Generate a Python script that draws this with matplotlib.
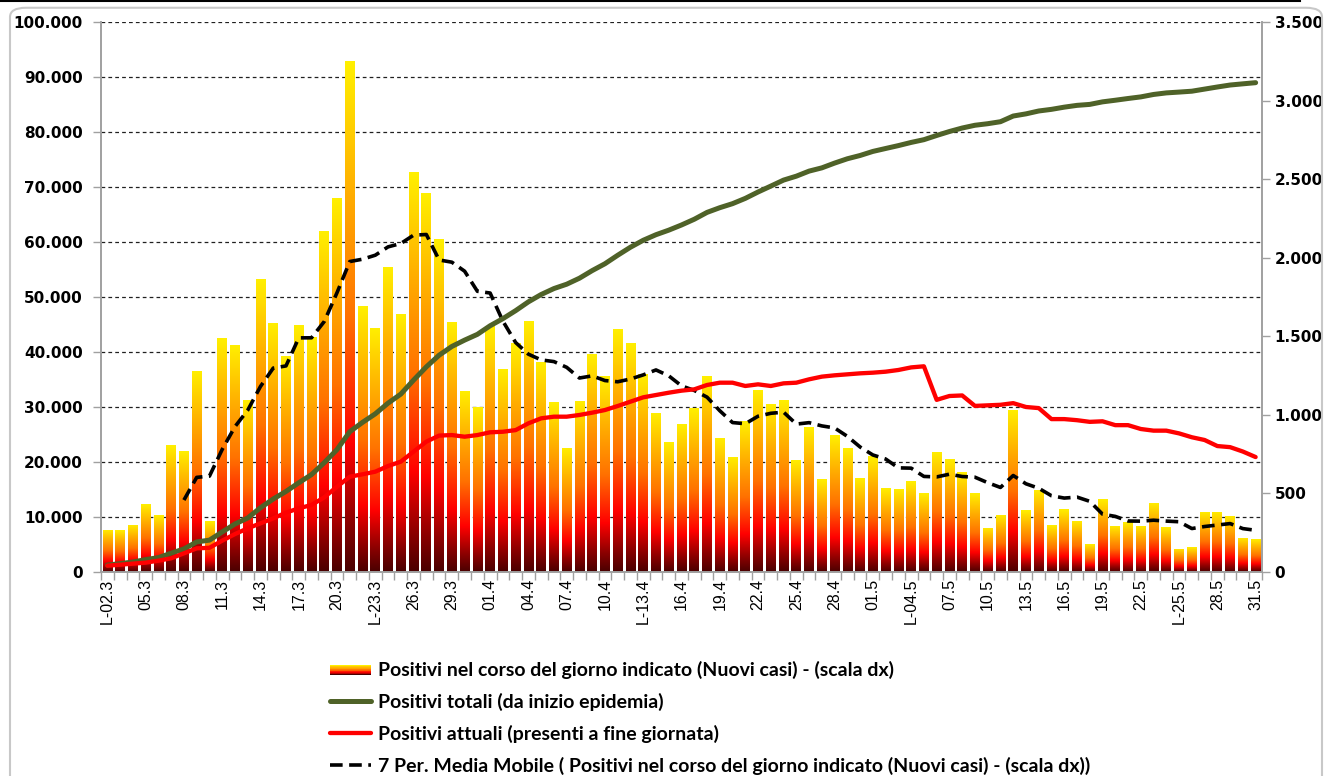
import numpy as np
import pandas as pd
import matplotlib
matplotlib.use('Agg')
import matplotlib.pyplot as plt
from matplotlib.colors import LinearSegmentedColormap
from matplotlib.patches import Rectangle, FancyBboxPatch
from matplotlib.lines import Line2D
from matplotlib.legend_handler import HandlerBase
from matplotlib.ticker import FuncFormatter

# daily new positives (right scale), 02.3 -> 31.5
new_cases = [270, 266, 300, 431, 361, 808, 769, 1280, 322, 1489,
             1445, 1095, 1865, 1587, 1377, 1571, 1493, 2171, 2380, 3251,
             1691, 1555, 1942, 1643, 2543, 2409, 2117, 1592, 1154, 1047,
             1565, 1292, 1455, 1598, 1337, 1079, 791, 1089, 1388, 1246,
             1544, 1460, 1262, 1012, 827, 941, 1041, 1246, 855, 735,
             960, 1161, 1072, 1092, 713, 920, 590, 869, 786, 598,
             737, 533, 526, 577, 500, 764, 720, 634, 502, 282,
             364, 1033, 394, 522, 299, 399, 325, 176, 462, 294,
             316, 293, 441, 285, 148, 159, 384, 382, 358, 217, 210]

# total positives since start (left scale)
total_pos = [1254, 1520, 1820, 2251, 2612, 3420, 4189, 5469, 5791, 7280,
             8725, 9820, 11685, 13272, 14649, 16220, 17713, 19884, 22264, 25515,
             27206, 28761, 30703, 32346, 34889, 37298, 39415, 41007, 42161, 43208,
             44773, 46065, 47520, 49118, 50455, 51534, 52325, 53414, 54802, 56048,
             57592, 59052, 60314, 61326, 62153, 63094, 64135, 65381, 66236, 66971,
             67931, 69092, 70164, 71256, 71969, 72889, 73479, 74348, 75134, 75732,
             76469, 77002, 77528, 78105, 78605, 79369, 80089, 80723, 81225, 81507,
             81871, 82904, 83298, 83820, 84119, 84518, 84843, 85019, 85481, 85775,
             86091, 86384, 86825, 87110, 87258, 87417, 87801, 88183, 88541, 88758, 88968]

# current positives at end of day (left scale)
current_pos = [1150, 1330, 1520, 1700, 2060, 2490, 3400, 4300, 4400, 5700,
               6900, 7940, 8850, 9760, 10790, 11580, 12180, 13580, 15520, 17330,
               17760, 18240, 19270, 20060, 21880, 23700, 24800, 24900, 24600, 24900,
               25400, 25500, 25800, 27030, 27940, 28240, 28240, 28550, 28970, 29450,
               30180, 30970, 31760, 32180, 32600, 32970, 33210, 34000, 34420, 34420,
               33820, 34120, 33820, 34300, 34420, 35030, 35520, 35760, 35940, 36120,
               36240, 36420, 36730, 37200, 37400, 31300, 32000, 32100, 30200, 30300,
               30400, 30700, 30000, 29800, 27800, 27800, 27600, 27300, 27400, 26700,
               26700, 26000, 25700, 25700, 25200, 24500, 24000, 22900, 22700, 21900, 20900]

tick_labels = ['L-02.3', '05.3', '08.3', '11.3', '14.3', '17.3', '20.3', 'L-23.3',
               '26.3', '29.3', '01.4', '04.4', '07.4', '10.4', 'L-13.4', '16.4',
               '19.4', '22.4', '25.4', '28.4', '01.5', 'L-04.5', '07.5', '10.5',
               '13.5', '16.5', '19.5', '22.5', 'L-25.5', '28.5', '31.5']

legend_labels = ['Positivi nel corso del giorno indicato (Nuovi casi) - (scala dx)',
                 'Positivi totali (da inizio epidemia)',
                 'Positivi attuali (presenti a fine giornata)',
                 '7 Per. Media Mobile ( Positivi nel corso del giorno indicato (Nuovi casi) - (scala dx))']

days = np.arange(len(new_cases))
moving_avg = pd.Series(new_cases).rolling(7).mean()

bar_cmap = LinearSegmentedColormap.from_list(
    'fire', [(0, '#4a0000'), (0.1, '#8e0000'), (0.25, '#ff0000'),
             (0.5, '#ff7200'), (0.75, '#ffb000'), (1, '#fff000')])

fig = plt.figure(figsize=(13.27, 7.76), dpi=100)
ax = fig.add_axes([101 / 1327, 1 - 572 / 776, 1161 / 1327, 550 / 776])
ax2 = ax.twinx()
ax.set_zorder(ax2.get_zorder() + 1)
ax.patch.set_visible(False)

LEFT_MAX, RIGHT_MAX = 100000, 3500

# bars with vertical gradient, on the right scale
bars = ax2.bar(days, new_cases, width=0.76, color='none', edgecolor='none', zorder=2)
grad = np.linspace(0, 1, 256).reshape(-1, 1)
for b in bars:
    x0, w, h = b.get_x(), b.get_width(), b.get_height()
    im = ax2.imshow(grad, cmap=bar_cmap, origin='lower', aspect='auto',
                    extent=[x0, x0 + w, 0, h], zorder=2, interpolation='bilinear')
    im.set_clip_path(b)

# grid at the left-axis ticks, drawn under the bars
for t in np.arange(10000, LEFT_MAX + 1, 10000):
    ax2.axhline(t * RIGHT_MAX / LEFT_MAX, color='#202020', lw=0.9,
                ls=(0, (3, 2.5)), zorder=1)

ma_line, = ax2.plot(days, moving_avg, color='black', lw=2.6, ls=(0, (3.5, 1.8)),
                    zorder=5)

green_line, = ax.plot(days, total_pos, color='#4f6228', lw=3.6, solid_capstyle='round')
red_line, = ax.plot(days, current_pos, color='#ff0000', lw=3.1, solid_capstyle='round')

ax.set_xlim(-0.5, len(days) - 0.5)
ax.set_ylim(0, LEFT_MAX)
ax2.set_ylim(0, RIGHT_MAX)

thousands = FuncFormatter(lambda v, p: f'{v:,.0f}'.replace(',', '.'))
ax.set_yticks(np.arange(0, LEFT_MAX + 1, 10000))
ax.yaxis.set_major_formatter(thousands)
ax2.set_yticks(np.arange(0, RIGHT_MAX + 1, 500))
ax2.yaxis.set_major_formatter(thousands)

for lab in ax.get_yticklabels() + ax2.get_yticklabels():
    lab.set_fontfamily('DejaVu Sans')
    lab.set_fontweight('bold')
    lab.set_fontsize(11)
ax.tick_params(axis='y', length=6, width=1, color='#a0a0a0', pad=7)
ax2.tick_params(axis='y', length=6, width=1, color='#a0a0a0', pad=3)

# x: tick marks between categories, labels every 3 days
ax.set_xticks(np.arange(-0.5, len(days), 1))
ax.set_xticklabels([])
ax.set_xticks(days[::3], tick_labels, minor=True)
ax.tick_params(axis='x', which='major', length=6, width=1, color='#a0a0a0')
ax.tick_params(axis='x', which='minor', length=0, pad=5)
for lab in ax.get_xticklabels(minor=True):
    lab.set_rotation(90)
    lab.set_fontfamily('Liberation Sans')
    lab.set_fontsize(11.5)

for a in (ax, ax2):
    a.spines['top'].set_visible(False)
    for s in ('left', 'right', 'bottom'):
        a.spines[s].set_color('#a0a0a0')
        a.spines[s].set_linewidth(1.2)


class GradientHandler(HandlerBase):
    def create_artists(self, legend, orig, xd, yd, w, h, fontsize, trans):
        n = 14
        parts = []
        for k in range(n):
            r = Rectangle((xd, yd + h * 0.05 + k * h * 0.75 / n), w, h * 0.75 / n * 1.05,
                          facecolor=bar_cmap(k / (n - 1)), edgecolor='none',
                          transform=trans)
            parts.append(r)
        return parts


bar_proxy = Rectangle((0, 0), 1, 1)
leg = fig.legend([bar_proxy, green_line, red_line, ma_line], legend_labels,
                 handler_map={Rectangle: GradientHandler()},
                 loc='upper left', bbox_to_anchor=(320 / 1327, 1 - 651 / 776),
                 frameon=False, handlelength=2.1, handletextpad=0.4,
                 labelspacing=0.72, borderpad=0,
                 prop={'family': 'Lato', 'weight': 'bold', 'size': 14})

# outer chart border
fig.add_artist(FancyBboxPatch((10 / 1327, -0.05), 1312 / 1327, 1.04,
                              boxstyle='round,pad=0,rounding_size=0.012',
                              transform=fig.transFigure, fc='none',
                              ec='#c8c8c8', lw=1.5))
fig.add_artist(Line2D([0, 1300 / 1327], [0.999, 0.999], color='black', lw=1.5,
                      transform=fig.transFigure))

fig.savefig('out.png', dpi=100)
